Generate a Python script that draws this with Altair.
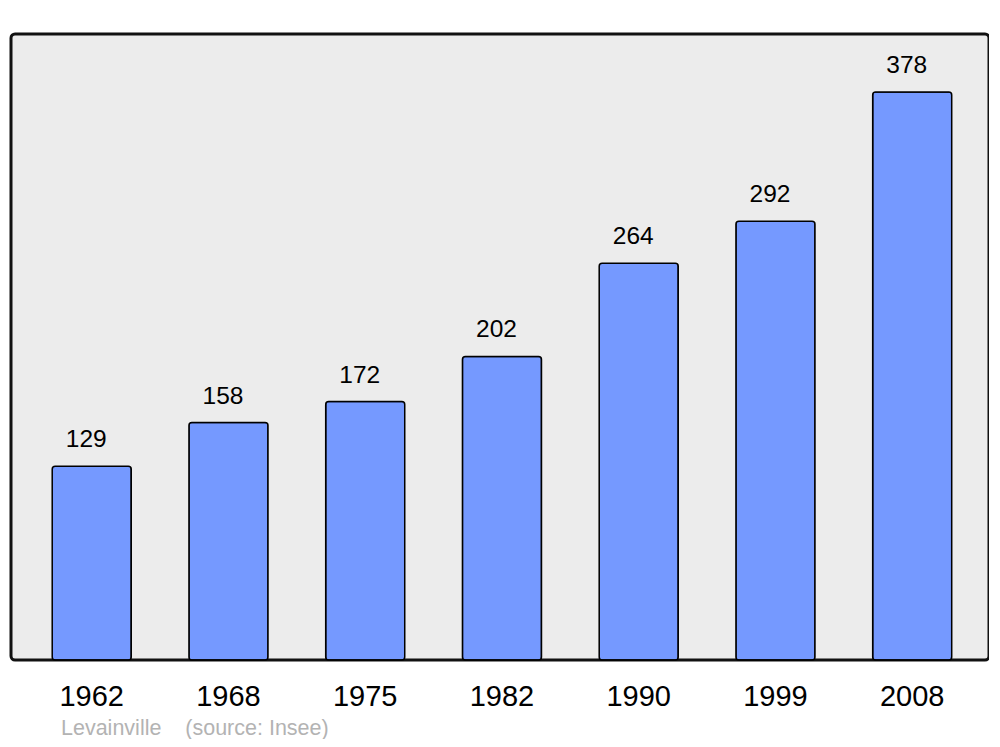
import altair as alt
import pandas as pd

years = ["1962", "1968", "1975", "1982", "1990", "1999", "2008"]
population = [129, 158, 172, 202, 264, 292, 378]
caption = "Levainville\u00a0\u00a0\u00a0\u00a0(source: Insee)"

df = pd.DataFrame({"year": years, "pop": population})

FONT = "Liberation Sans"

x = alt.X("year:N", sort=years,
          scale=alt.Scale(paddingInner=0.422, paddingOuter=0.287, align=0.525),
          axis=alt.Axis(title=None, ticks=False, domain=False, labelAngle=0,
                        labelFontSize=29, labelColor="#000000", labelFont=FONT,
                        labelPadding=22, grid=False))
y = alt.Y("pop:Q", scale=alt.Scale(domain=[0, 416.6], nice=False, zero=True),
          axis=None)

bars = alt.Chart(df).mark_bar(
    color="#7599ff", stroke="#000000", strokeWidth=1.5, cornerRadius=3
).encode(x=x, y=y)

labels = alt.Chart(df).mark_text(
    fontSize=24.5, font=FONT, color="#000000", baseline="alphabetic", dy=-19, dx=-5.5
).encode(x=x, y=y, text="pop:Q")

chart = alt.layer(bars, labels).properties(
    width=978, height=626,
    autosize=alt.AutoSizeParams(type="none"),
    padding={"left": 3, "top": 26, "right": 0, "bottom": 79},
    title=alt.TitleParams(caption, orient="bottom", anchor="start", dx=50, offset=7,
                          fontSize=21.5, font=FONT, color="#b3b3b3",
                          fontWeight="normal"),
).configure(
    background="#ffffff"
).configure_view(
    fill="#ececec", stroke="#111111", strokeWidth=3, cornerRadius=4
)

chart.save("out.html", embed_options={"renderer": "svg", "actions": False})
